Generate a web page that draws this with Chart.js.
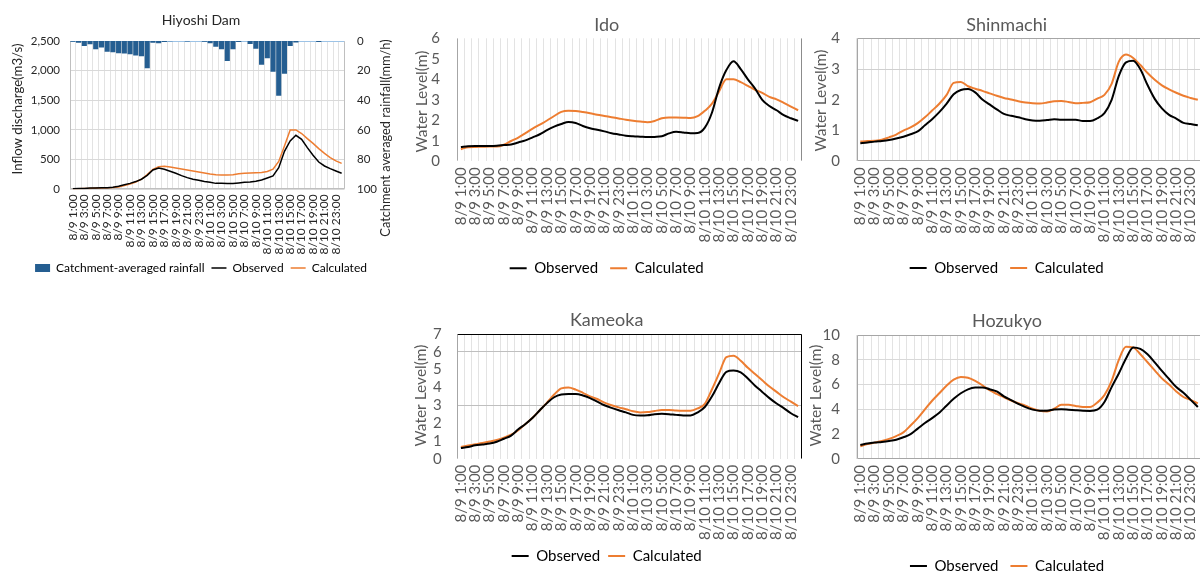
<!DOCTYPE html>
<html>
<head>
<meta charset="utf-8">
<title>Hiyoshi Dam inflow and water levels, 9-10 August</title>
<script src="https://cdn.jsdelivr.net/npm/chart.js@4.4.1/dist/chart.umd.min.js"></script>
<style>
  html, body { margin: 0; padding: 0; background: #fff; width: 1200px; height: 571px; overflow: hidden; position: relative; }
  canvas { position: absolute; }
</style>
</head>
<body>
<canvas id="hiyoshi"   width="402" height="290" style="left:0px;top:0px"></canvas>
<canvas id="ido"       width="408" height="290" style="left:400px;top:0px"></canvas>
<canvas id="shinmachi" width="406" height="290" style="left:802px;top:0px"></canvas>
<canvas id="kameoka"   width="408" height="283" style="left:400px;top:295px"></canvas>
<canvas id="hozukyo"   width="406" height="292" style="left:802px;top:295px"></canvas>
<script>
// Hourly time steps, 8/9 1:00 through 8/11 0:00
const hours = [
  '8/9 1:00', '8/9 2:00', '8/9 3:00', '8/9 4:00', '8/9 5:00', '8/9 6:00', '8/9 7:00', '8/9 8:00',
  '8/9 9:00', '8/9 10:00', '8/9 11:00', '8/9 12:00', '8/9 13:00', '8/9 14:00', '8/9 15:00', '8/9 16:00',
  '8/9 17:00', '8/9 18:00', '8/9 19:00', '8/9 20:00', '8/9 21:00', '8/9 22:00', '8/9 23:00', '8/10 0:00',
  '8/10 1:00', '8/10 2:00', '8/10 3:00', '8/10 4:00', '8/10 5:00', '8/10 6:00', '8/10 7:00', '8/10 8:00',
  '8/10 9:00', '8/10 10:00', '8/10 11:00', '8/10 12:00', '8/10 13:00', '8/10 14:00', '8/10 15:00', '8/10 16:00',
  '8/10 17:00', '8/10 18:00', '8/10 19:00', '8/10 20:00', '8/10 21:00', '8/10 22:00', '8/10 23:00', '8/11 0:00'
];

// Hiyoshi Dam: catchment-averaged rainfall (mm/h) and inflow discharge (m3/s)
const rainfall = [
  0.5, 1.1, 3.4, 2.2, 5.5, 4.3, 7.2, 7.6, 8.3, 8.5, 9.0, 9.7, 10.2, 18.4, 1.1, 1.6,
  0.7, 0.2, 0, 0, 0.4, 0, 0, 0.5, 1.5, 3.8, 5.6, 13.5, 5.6, 0.7, 0, 2.0,
  5.2, 16.0, 11.7, 20.7, 37.0, 22.0, 3.4, 1.0, 0, 0, 0, 0.6, 0, 0, 0, 0
];
const hiyoshiObserved = [
  10, 15, 15, 20, 20, 25, 28, 33, 50, 78, 100, 130, 170, 235, 325, 360,
  337, 303, 270, 230, 197, 170, 152, 130, 118, 100, 100, 96, 96, 107, 118, 124,
  135, 157, 190, 225, 365, 640, 815, 910, 843, 702, 573, 460, 393, 348, 309, 270
];
const hiyoshiCalculated = [
  5, 10, 15, 15, 20, 22, 28, 30, 40, 62, 90, 124, 170, 247, 337, 382,
  388, 377, 360, 343, 326, 309, 292, 275, 258, 247, 242, 242, 247, 264, 270, 275,
  281, 285, 300, 340, 470, 730, 1000, 1000, 940, 854, 775, 686, 607, 534, 478, 438
];

// Water levels (m)
const idoObserved = [
  0.70, 0.74, 0.75, 0.75, 0.75, 0.76, 0.79, 0.82, 0.92, 1.02, 1.17, 1.32, 1.52, 1.69, 1.82, 1.92,
  1.87, 1.72, 1.61, 1.54, 1.46, 1.37, 1.31, 1.25, 1.22, 1.20, 1.18, 1.19, 1.22, 1.36, 1.44, 1.41,
  1.37, 1.38, 1.64, 2.38, 3.60, 4.45, 4.88, 4.50, 4.00, 3.55, 3.00, 2.70, 2.49, 2.25, 2.10, 1.97
];
const idoCalculated = [
  0.59, 0.69, 0.70, 0.71, 0.72, 0.72, 0.81, 0.99, 1.16, 1.37, 1.59, 1.79, 1.99, 2.21, 2.41, 2.46,
  2.45, 2.40, 2.34, 2.27, 2.21, 2.15, 2.09, 2.03, 1.98, 1.94, 1.91, 1.97, 2.10, 2.14, 2.14, 2.13,
  2.11, 2.20, 2.46, 2.81, 3.42, 4.00, 4.00, 3.86, 3.68, 3.49, 3.34, 3.14, 3.02, 2.85, 2.67, 2.49
];
const shinmachiObserved = [
  0.59, 0.61, 0.64, 0.66, 0.69, 0.74, 0.80, 0.88, 0.97, 1.17, 1.37, 1.60, 1.87, 2.18, 2.32, 2.35,
  2.24, 2.01, 1.85, 1.69, 1.54, 1.48, 1.43, 1.37, 1.33, 1.32, 1.34, 1.37, 1.35, 1.35, 1.35, 1.31,
  1.31, 1.40, 1.57, 2.00, 2.78, 3.22, 3.27, 2.99, 2.48, 2.03, 1.72, 1.51, 1.39, 1.25, 1.21, 1.17
];
const shinmachiCalculated = [
  0.64, 0.66, 0.67, 0.70, 0.78, 0.87, 1.00, 1.10, 1.24, 1.43, 1.65, 1.87, 2.15, 2.55, 2.58, 2.44,
  2.36, 2.29, 2.21, 2.13, 2.06, 2.01, 1.95, 1.91, 1.89, 1.88, 1.91, 1.95, 1.96, 1.93, 1.89, 1.90,
  1.92, 2.04, 2.16, 2.52, 3.24, 3.47, 3.36, 3.13, 2.87, 2.65, 2.47, 2.34, 2.23, 2.13, 2.06, 2.00
];
const kameokaObserved = [
  0.60, 0.66, 0.75, 0.80, 0.85, 0.95, 1.12, 1.30, 1.65, 1.95, 2.30, 2.72, 3.12, 3.45, 3.60, 3.63,
  3.63, 3.55, 3.40, 3.20, 3.00, 2.85, 2.72, 2.60, 2.46, 2.43, 2.44, 2.50, 2.52, 2.50, 2.46, 2.43,
  2.43, 2.60, 2.90, 3.50, 4.25, 4.88, 4.95, 4.85, 4.50, 4.10, 3.75, 3.40, 3.10, 2.84, 2.55, 2.33
];
const kameokaCalculated = [
  0.66, 0.74, 0.81, 0.88, 0.96, 1.05, 1.18, 1.35, 1.60, 1.95, 2.30, 2.72, 3.15, 3.60, 3.95, 4.00,
  3.88, 3.70, 3.50, 3.35, 3.15, 3.00, 2.88, 2.78, 2.66, 2.60, 2.62, 2.68, 2.73, 2.73, 2.70, 2.69,
  2.69, 2.82, 3.08, 3.90, 4.80, 5.70, 5.78, 5.50, 5.10, 4.75, 4.40, 4.05, 3.75, 3.45, 3.20, 2.95
];
const hozukyoObserved = [
  1.14, 1.25, 1.33, 1.38, 1.45, 1.55, 1.75, 2.00, 2.45, 2.90, 3.30, 3.73, 4.30, 4.85, 5.30, 5.62,
  5.76, 5.77, 5.63, 5.45, 5.05, 4.75, 4.45, 4.18, 3.98, 3.89, 3.89, 4.00, 4.02, 3.98, 3.93, 3.89,
  3.88, 3.98, 4.60, 5.80, 6.90, 8.10, 9.00, 8.88, 8.45, 7.80, 7.10, 6.45, 5.80, 5.35, 4.77, 4.20
];
const hozukyoCalculated = [
  1.03, 1.20, 1.32, 1.45, 1.62, 1.85, 2.15, 2.70, 3.30, 4.00, 4.70, 5.30, 5.90, 6.40, 6.62, 6.55,
  6.30, 5.95, 5.55, 5.25, 4.98, 4.72, 4.50, 4.30, 4.05, 3.88, 3.84, 4.05, 4.37, 4.37, 4.28, 4.20,
  4.19, 4.55, 5.15, 6.30, 8.00, 9.05, 9.00, 8.45, 7.80, 7.15, 6.50, 6.00, 5.45, 5.00, 4.77, 4.48
];

const FONT = "Lato, 'Open Sans', 'Liberation Sans', sans-serif";
const TEXT_GREY = '#595959';
const OBS_COLOR = '#000000';
const CALC_COLOR = '#ED7D31';
const RAIN_COLOR = '#255E91';

// Vertical axis titles, drawn rotated so they read bottom to top
const sideTitles = {
  id: 'sideTitles',
  afterDraw(chart, args, opts) {
    const ctx = chart.ctx;
    (opts.items || []).forEach(t => {
      ctx.save();
      ctx.translate(t.x, t.y);
      ctx.rotate(-Math.PI / 2);
      ctx.font = t.size + 'px ' + FONT;
      ctx.fillStyle = t.color;
      ctx.textAlign = 'center';
      ctx.textBaseline = 'middle';
      ctx.fillText(t.text, 0, 0);
      ctx.restore();
    });
  }
};

// Plot-area outline, one colour per side (sides left out are not drawn)
const plotFrame = {
  id: 'plotFrame',
  beforeDatasetsDraw(chart, args, opts) {
    const a = chart.chartArea;
    const ctx = chart.ctx;
    const L = Math.round(a.left) + 0.5, R = Math.round(a.right) - 0.5;
    const T = Math.round(a.top) + 0.5, B = Math.round(a.bottom) - 0.5;
    const sides = { top: [L, T, R, T], right: [R, T, R, B], bottom: [L, B, R, B], left: [L, T, L, B] };
    Object.keys(sides).forEach(k => {
      if (!opts[k]) return;
      const s = sides[k];
      ctx.save();
      ctx.strokeStyle = opts[k];
      ctx.lineWidth = 1;
      ctx.beginPath();
      ctx.moveTo(s[0], s[1]);
      ctx.lineTo(s[2], s[3]);
      ctx.stroke();
      ctx.restore();
    });
  }
};

function legendItems(chart) {
  return chart.data.datasets.map((d, i) => ({
    text: d.label,
    fillStyle: d.type === 'bar' ? d.backgroundColor : d.borderColor,
    strokeStyle: d.type === 'bar' ? d.backgroundColor : d.borderColor,
    lineWidth: d.type === 'bar' ? 0 : d.borderWidth,
    pointStyle: d.type === 'bar' ? 'rect' : 'line',
    hidden: false,
    datasetIndex: i
  }));
}

function hourTicks(value, index) {
  return index % 2 === 0 ? hours[index] : '';
}

function lineSet(label, data, color, width, smooth, order) {
  return {
    type: 'line', label, data, order,
    borderColor: color, borderWidth: width, backgroundColor: color,
    pointRadius: 0, pointHoverRadius: 0,
    cubicInterpolationMode: smooth ? 'monotone' : 'default', tension: 0,
    fill: false
  };
}

// ---- Hiyoshi Dam: discharge (left axis) with rainfall hanging from the top (right axis) ----
new Chart(document.getElementById('hiyoshi'), {
  type: 'bar',
  data: {
    labels: hours,
    datasets: [
      { type: 'bar', label: 'Catchment-averaged rainfall', data: rainfall, yAxisID: 'y2',
        backgroundColor: RAIN_COLOR, barPercentage: 1, categoryPercentage: 0.9, order: 3 },
      Object.assign(lineSet('Observed', hiyoshiObserved, OBS_COLOR, 1.5, false, 1), { yAxisID: 'y' }),
      Object.assign(lineSet('Calculated', hiyoshiCalculated, CALC_COLOR, 1.5, false, 2), { yAxisID: 'y' })
    ]
  },
  options: {
    responsive: false,
    animation: false,
    layout: { padding: { left: 0, right: 0, top: 0, bottom: 6 } },
    plugins: {
      title: { display: true, text: 'Hiyoshi Dam', color: '#262626',
        font: { family: FONT, size: 14, weight: 'normal' }, padding: { top: 11.6, bottom: 12.6 } },
      legend: { position: 'bottom',
        labels: { usePointStyle: true, pointStyleWidth: 15, boxHeight: 8, padding: 7, color: '#262626',
          font: { family: FONT, size: 12 }, generateLabels: legendItems } },
      tooltip: { enabled: false },
      sideTitles: { items: [
        { text: 'Inflow discharge(m3/s)', x: 17.5, y: 109, size: 13.2, color: '#262626' },
        { text: 'Catchment averaged rainfall(mm/h)', x: 385.5, y: 138, size: 12.8, color: '#262626' }
      ] },
      plotFrame: { top: '#9DC3E6', right: '#BFBFBF', bottom: '#BFBFBF', left: '#BFBFBF' }
    },
    scales: {
      x: {
        offset: true,
        grid: { offset: true, color: '#E3E3E3', drawTicks: false },
        border: { display: false },
        ticks: { autoSkip: false, minRotation: 90, maxRotation: 90, padding: 5, color: '#262626',
          font: { family: FONT, size: 12 }, callback: hourTicks },
        afterFit: s => { s.height = 65.7; s.paddingLeft = 0; s.paddingRight = 0; }
      },
      y: {
        position: 'left', min: 0, max: 2500,
        ticks: { stepSize: 500, autoSkip: false, padding: 10, color: '#262626', font: { family: FONT, size: 11.5 },
          callback: v => v.toLocaleString('en-US') },
        grid: { color: '#D9D9D9', drawTicks: false },
        border: { display: false },
        afterFit: s => { s.width = 70; s.paddingTop = 0; s.paddingBottom = 0; }
      },
      y2: {
        position: 'right', min: 0, max: 100, reverse: true,
        ticks: { stepSize: 20, autoSkip: false, padding: 12.5, color: '#262626', font: { family: FONT, size: 11.5 } },
        grid: { display: false, drawTicks: false },
        border: { display: false },
        afterFit: s => { s.width = 57.5; s.paddingTop = 0; s.paddingBottom = 0; }
      }
    }
  },
  plugins: [sideTitles, plotFrame]
});

// ---- Water-level stations ----
function levelChart(id, p) {
  new Chart(document.getElementById(id), {
    type: 'line',
    data: {
      labels: hours,
      datasets: [
        lineSet('Observed', p.observed, OBS_COLOR, 2, true, 1),
        lineSet('Calculated', p.calculated, CALC_COLOR, 2, true, 2)
      ]
    },
    options: {
      responsive: false,
      animation: false,
      layout: { padding: { left: p.padL, right: p.padR, top: 0, bottom: p.padB } },
      plugins: {
        title: { display: true, text: p.title, color: TEXT_GREY,
          font: { family: FONT, size: 18, weight: 'normal' }, padding: { top: p.titleTop, bottom: p.titleBottom } },
        legend: { position: 'bottom',
          labels: { usePointStyle: true, pointStyleWidth: 17, padding: p.legendPad, color: TEXT_GREY,
            font: { family: FONT, size: 15 }, generateLabels: legendItems } },
        tooltip: { enabled: false },
        sideTitles: { items: [ { text: 'Water Level(m)', x: p.titleX, y: p.titleY, size: 15.5, color: TEXT_GREY } ] },
        plotFrame: p.frame
      },
      scales: {
        x: {
          offset: true,
          grid: { offset: true, color: '#E3E3E3', drawTicks: false },
          border: { display: false },
          ticks: { autoSkip: false, minRotation: 90, maxRotation: 90, padding: 6, color: TEXT_GREY,
            font: { family: FONT, size: 15 }, callback: hourTicks },
          afterFit: s => { s.height = p.xHeight; s.paddingLeft = 0; s.paddingRight = 0; }
        },
        y: {
          min: 0, max: p.yMax,
          ticks: { stepSize: p.yStep, autoSkip: false, padding: p.tickPad, color: TEXT_GREY, font: { family: FONT, size: 15 } },
          grid: { drawTicks: false, color: c => p.gridAt.indexOf(c.tick.value) >= 0 ? p.gridColor : 'rgba(0,0,0,0)' },
          border: { display: false },
          afterFit: s => { s.width = p.yWidth; s.paddingTop = 0; s.paddingBottom = 0; }
        }
      }
    },
    plugins: [sideTitles, plotFrame]
  });
}

levelChart('ido', {
  title: 'Ido', observed: idoObserved, calculated: idoCalculated,
  yMax: 6, yStep: 1, gridAt: [], gridColor: '#D9D9D9',
  padL: 11.7, padR: 6.3, padB: 4.2, titleTop: 14.2, titleBottom: 2.5, xHeight: 87.5, legendPad: 12,
  yWidth: 45.6, tickPad: 17.3, titleX: 21.5, titleY: 101.5,
  frame: { left: '#A6A6A6', right: '#8C8C8C' }
});

levelChart('shinmachi', {
  title: 'Shinmachi', observed: shinmachiObserved, calculated: shinmachiCalculated,
  yMax: 4, yStep: 1, gridAt: [3], gridColor: '#D0D0D0',
  padL: 10, padR: 6.6, padB: 4.5, titleTop: 14.2, titleBottom: 2.5, xHeight: 87.2, legendPad: 12,
  yWidth: 44.7, tickPad: 16.7, titleX: 19, titleY: 100.5,
  frame: { top: '#A6A6A6', right: '#A6A6A6', bottom: '#A6A6A6', left: '#A6A6A6' }
});

levelChart('kameoka', {
  title: 'Kameoka', observed: kameokaObserved, calculated: kameokaCalculated,
  yMax: 7, yStep: 1, gridAt: [3, 6], gridColor: '#BFBFBF',
  padL: 11.7, padR: 6.3, padB: 4.5, titleTop: 14.2, titleBottom: 3.2, xHeight: 81.8, legendPad: 8,
  yWidth: 45.6, tickPad: 15.6, titleX: 21, titleY: 100.5,
  frame: { top: '#000000', right: '#000000', left: '#A6A6A6' }
});

levelChart('hozukyo', {
  title: 'Hozukyo', observed: hozukyoObserved, calculated: hozukyoCalculated,
  yMax: 10, yStep: 2, gridAt: [4, 6, 8], gridColor: '#D9D9D9',
  padL: 10.6, padR: 6.6, padB: 3.5, titleTop: 14.9, titleBottom: 3.5, xHeight: 87.5, legendPad: 12,
  yWidth: 44.1, tickPad: 16.7, titleX: 14, titleY: 100.5,
  frame: { top: '#A6A6A6', bottom: '#A6A6A6', left: '#A6A6A6' }
});
</script>
</body>
</html>
